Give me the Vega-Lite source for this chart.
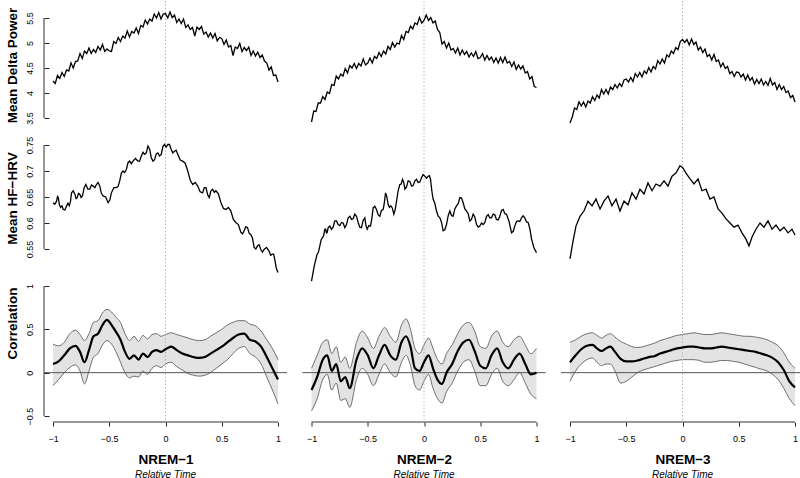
{
"$schema": "https://vega.github.io/schema/vega-lite/v6.json",
"padding": {"left": 5, "top": 0, "right": 0, "bottom": 0},
"background": "white",
"config": {
  "font": "Liberation Sans",
  "view": {"stroke": null},
  "axis": {"grid": false, "labelColor": "#000", "titleColor": "#000", "tickColor": "#222", "labelFont": "Liberation Sans", "titleFont": "Liberation Sans", "labelOverlap": false},
  "title": {"font": "Liberation Sans", "color": "#000"}
},
"datasets": {
"delta": [
{"t":-1,"n1":4.24,"n2":3.42,"n3":3.4},{"t":-0.98,"n1":4.19,"n2":3.64,"n3":3.52},{"t":-0.96,"n1":4.35,"n2":3.63,"n3":3.7},{"t":-0.94,"n1":4.29,"n2":3.8,"n3":3.67},{"t":-0.92,"n1":4.41,"n2":3.8,"n3":3.82},{"t":-0.9,"n1":4.33,"n2":3.93,"n3":3.74},{"t":-0.88,"n1":4.46,"n2":3.87,"n3":3.82},{"t":-0.86,"n1":4.44,"n2":4.02,"n3":3.72},{"t":-0.84,"n1":4.6,"n2":3.99,"n3":3.84},{"t":-0.82,"n1":4.5,"n2":4.17,"n3":3.8},
{"t":-0.8,"n1":4.63,"n2":4.15,"n3":3.93},{"t":-0.78,"n1":4.64,"n2":4.34,"n3":3.85},{"t":-0.76,"n1":4.79,"n2":4.28,"n3":3.96},{"t":-0.74,"n1":4.69,"n2":4.38,"n3":3.9},{"t":-0.72,"n1":4.84,"n2":4.34,"n3":4.07},{"t":-0.7,"n1":4.79,"n2":4.49,"n3":3.98},{"t":-0.68,"n1":4.9,"n2":4.4,"n3":4.07},{"t":-0.66,"n1":4.79,"n2":4.55,"n3":3.98},{"t":-0.64,"n1":4.87,"n2":4.5,"n3":4.12},{"t":-0.62,"n1":4.81,"n2":4.59,"n3":4.07},
{"t":-0.6,"n1":4.93,"n2":4.49,"n3":4.17},{"t":-0.58,"n1":4.86,"n2":4.59,"n3":4.1},{"t":-0.56,"n1":4.97,"n2":4.54,"n3":4.19},{"t":-0.54,"n1":4.83,"n2":4.68,"n3":4.13},{"t":-0.52,"n1":4.88,"n2":4.56,"n3":4.26},{"t":-0.5,"n1":4.84,"n2":4.6,"n3":4.28},{"t":-0.48,"n1":4.83,"n2":4.7,"n3":4.22},{"t":-0.46,"n1":5.03,"n2":4.6,"n3":4.31},{"t":-0.44,"n1":4.99,"n2":4.73,"n3":4.23},{"t":-0.42,"n1":5.11,"n2":4.69,"n3":4.39},
{"t":-0.4,"n1":5.03,"n2":4.81,"n3":4.32},{"t":-0.38,"n1":5.14,"n2":4.73,"n3":4.41},{"t":-0.36,"n1":5.1,"n2":4.84,"n3":4.32},{"t":-0.34,"n1":5.24,"n2":4.78,"n3":4.44},{"t":-0.32,"n1":5.12,"n2":4.93,"n3":4.39},{"t":-0.3,"n1":5.23,"n2":4.87,"n3":4.51},{"t":-0.28,"n1":5.2,"n2":5.01,"n3":4.42},{"t":-0.26,"n1":5.3,"n2":4.92,"n3":4.53},{"t":-0.24,"n1":5.19,"n2":5.0,"n3":4.48},{"t":-0.22,"n1":5.35,"n2":4.98,"n3":4.65},
{"t":-0.2,"n1":5.32,"n2":5.15,"n3":4.58},{"t":-0.18,"n1":5.46,"n2":5.07,"n3":4.68},{"t":-0.16,"n1":5.38,"n2":5.23,"n3":4.6},{"t":-0.14,"n1":5.48,"n2":5.21,"n3":4.76},{"t":-0.12,"n1":5.44,"n2":5.34,"n3":4.72},{"t":-0.1,"n1":5.58,"n2":5.28,"n3":4.84},{"t":-0.08,"n1":5.5,"n2":5.4,"n3":4.79},{"t":-0.06,"n1":5.61,"n2":5.37,"n3":4.91},{"t":-0.04,"n1":5.48,"n2":5.51,"n3":4.87},{"t":-0.02,"n1":5.58,"n2":5.4,"n3":5.03},
{"t":0,"n1":5.59,"n2":5.45,"n3":5.07},{"t":0.02,"n1":5.5,"n2":5.56,"n3":5.01},{"t":0.04,"n1":5.62,"n2":5.45,"n3":5.07},{"t":0.06,"n1":5.51,"n2":5.51,"n3":4.96},{"t":0.08,"n1":5.56,"n2":5.4,"n3":5.08},{"t":0.1,"n1":5.41,"n2":5.44,"n3":4.97},{"t":0.12,"n1":5.48,"n2":5.27,"n3":5.02},{"t":0.14,"n1":5.39,"n2":5.21,"n3":4.86},{"t":0.16,"n1":5.48,"n2":4.98,"n3":4.92},{"t":0.18,"n1":5.31,"n2":5.03,"n3":4.81},
{"t":0.2,"n1":5.36,"n2":4.9,"n3":4.88},{"t":0.22,"n1":5.27,"n2":5.0,"n3":4.73},{"t":0.24,"n1":5.31,"n2":4.86,"n3":4.77},{"t":0.26,"n1":5.14,"n2":4.89,"n3":4.66},{"t":0.28,"n1":5.32,"n2":4.8,"n3":4.77},{"t":0.3,"n1":5.27,"n2":4.9,"n3":4.63},{"t":0.32,"n1":5.33,"n2":4.76,"n3":4.66},{"t":0.34,"n1":5.18,"n2":4.86,"n3":4.52},{"t":0.36,"n1":5.22,"n2":4.77,"n3":4.6},{"t":0.38,"n1":5.12,"n2":4.83,"n3":4.49},
{"t":0.4,"n1":5.2,"n2":4.72,"n3":4.53},{"t":0.42,"n1":5.1,"n2":4.8,"n3":4.39},{"t":0.44,"n1":5.19,"n2":4.73,"n3":4.43},{"t":0.46,"n1":5.04,"n2":4.83,"n3":4.33},{"t":0.48,"n1":5.11,"n2":4.69,"n3":4.42},{"t":0.5,"n1":5.09,"n2":4.71,"n3":4.41},{"t":0.52,"n1":4.97,"n2":4.79,"n3":4.32},{"t":0.54,"n1":5.06,"n2":4.66,"n3":4.38},{"t":0.56,"n1":4.92,"n2":4.75,"n3":4.26},{"t":0.58,"n1":4.95,"n2":4.66,"n3":4.36},
{"t":0.6,"n1":4.75,"n2":4.72,"n3":4.25},{"t":0.62,"n1":4.92,"n2":4.61,"n3":4.31},{"t":0.64,"n1":4.89,"n2":4.7,"n3":4.18},{"t":0.66,"n1":4.99,"n2":4.6,"n3":4.27},{"t":0.68,"n1":4.83,"n2":4.71,"n3":4.19},{"t":0.7,"n1":4.91,"n2":4.61,"n3":4.28},{"t":0.72,"n1":4.85,"n2":4.72,"n3":4.16},{"t":0.74,"n1":4.92,"n2":4.6,"n3":4.23},{"t":0.76,"n1":4.75,"n2":4.63,"n3":4.15},{"t":0.78,"n1":4.84,"n2":4.53,"n3":4.29},
{"t":0.8,"n1":4.74,"n2":4.62,"n3":4.16},{"t":0.82,"n1":4.82,"n2":4.47,"n3":4.21},{"t":0.84,"n1":4.71,"n2":4.56,"n3":4.07},{"t":0.86,"n1":4.76,"n2":4.48,"n3":4.17},{"t":0.88,"n1":4.64,"n2":4.54,"n3":4.07},{"t":0.9,"n1":4.6,"n2":4.4,"n3":4.13},{"t":0.92,"n1":4.46,"n2":4.43,"n3":4.01},{"t":0.94,"n1":4.52,"n2":4.28,"n3":4.04},{"t":0.96,"n1":4.35,"n2":4.33,"n3":3.91},{"t":0.98,"n1":4.36,"n2":4.13,"n3":3.95},
{"t":1,"n1":4.22,"n2":4.11,"n3":3.82}
],
"hrv1": [
{"t":-1,"v":0.639},{"t":-0.984,"v":0.636},{"t":-0.968,"v":0.642},{"t":-0.96,"v":0.651},{"t":-0.953,"v":0.649},{"t":-0.942,"v":0.634},{"t":-0.932,"v":0.63},{"t":-0.92,"v":0.633},{"t":-0.909,"v":0.626},{"t":-0.894,"v":0.625},
{"t":-0.879,"v":0.633},{"t":-0.867,"v":0.638},{"t":-0.855,"v":0.633},{"t":-0.845,"v":0.641},{"t":-0.835,"v":0.658},{"t":-0.82,"v":0.662},{"t":-0.805,"v":0.655},{"t":-0.795,"v":0.647},{"t":-0.785,"v":0.649},{"t":-0.773,"v":0.657},
{"t":-0.761,"v":0.655},{"t":-0.75,"v":0.649},{"t":-0.738,"v":0.652},{"t":-0.723,"v":0.668},{"t":-0.708,"v":0.674},{"t":-0.69,"v":0.665},{"t":-0.673,"v":0.665},{"t":-0.658,"v":0.673},{"t":-0.643,"v":0.671},{"t":-0.628,"v":0.668},
{"t":-0.614,"v":0.674},{"t":-0.599,"v":0.678},{"t":-0.584,"v":0.671},{"t":-0.57,"v":0.657},{"t":-0.555,"v":0.652},{"t":-0.532,"v":0.65},{"t":-0.51,"v":0.639},{"t":-0.495,"v":0.644},{"t":-0.481,"v":0.658},{"t":-0.459,"v":0.668},
{"t":-0.437,"v":0.668},{"t":-0.422,"v":0.67},{"t":-0.407,"v":0.681},{"t":-0.392,"v":0.696},{"t":-0.378,"v":0.7},{"t":-0.363,"v":0.697},{"t":-0.348,"v":0.703},{"t":-0.333,"v":0.716},{"t":-0.319,"v":0.719},{"t":-0.304,"v":0.714},
{"t":-0.289,"v":0.719},{"t":-0.267,"v":0.724},{"t":-0.245,"v":0.719},{"t":-0.23,"v":0.719},{"t":-0.215,"v":0.729},{"t":-0.2,"v":0.736},{"t":-0.186,"v":0.732},{"t":-0.171,"v":0.735},{"t":-0.156,"v":0.748},{"t":-0.141,"v":0.742},
{"t":-0.127,"v":0.726},{"t":-0.112,"v":0.719},{"t":-0.097,"v":0.722},{"t":-0.082,"v":0.733},{"t":-0.068,"v":0.735},{"t":-0.053,"v":0.729},{"t":-0.038,"v":0.732},{"t":-0.023,"v":0.747},{"t":-0.009,"v":0.751},{"t":0.006,"v":0.746},
{"t":0.021,"v":0.751},{"t":0.035,"v":0.751},{"t":0.05,"v":0.742},{"t":0.065,"v":0.735},{"t":0.08,"v":0.738},{"t":0.095,"v":0.74},{"t":0.109,"v":0.732},{"t":0.131,"v":0.721},{"t":0.153,"v":0.719},{"t":0.175,"v":0.715},
{"t":0.198,"v":0.7},{"t":0.22,"v":0.682},{"t":0.242,"v":0.674},{"t":0.264,"v":0.678},{"t":0.286,"v":0.671},{"t":0.308,"v":0.66},{"t":0.33,"v":0.658},{"t":0.345,"v":0.668},{"t":0.36,"v":0.668},{"t":0.375,"v":0.654},
{"t":0.389,"v":0.649},{"t":0.404,"v":0.662},{"t":0.419,"v":0.665},{"t":0.434,"v":0.659},{"t":0.448,"v":0.662},{"t":0.47,"v":0.656},{"t":0.493,"v":0.639},{"t":0.515,"v":0.628},{"t":0.537,"v":0.626},{"t":0.559,"v":0.63},
{"t":0.581,"v":0.623},{"t":0.603,"v":0.607},{"t":0.625,"v":0.601},{"t":0.648,"v":0.597},{"t":0.67,"v":0.582},{"t":0.685,"v":0.579},{"t":0.699,"v":0.585},{"t":0.714,"v":0.593},{"t":0.729,"v":0.591},{"t":0.744,"v":0.58},
{"t":0.758,"v":0.578},{"t":0.773,"v":0.571},{"t":0.788,"v":0.553},{"t":0.803,"v":0.55},{"t":0.817,"v":0.556},{"t":0.832,"v":0.558},{"t":0.847,"v":0.549},{"t":0.862,"v":0.544},{"t":0.876,"v":0.549},{"t":0.898,"v":0.553},
{"t":0.92,"v":0.546},{"t":0.935,"v":0.538},{"t":0.95,"v":0.54},{"t":0.961,"v":0.54},{"t":0.971,"v":0.53},{"t":0.985,"v":0.513},{"t":1,"v":0.505}
],
"hrv2": [
{"t":-1,"v":0.488},{"t":-0.975,"v":0.518},{"t":-0.95,"v":0.54},{"t":-0.938,"v":0.544},{"t":-0.926,"v":0.556},{"t":-0.914,"v":0.568},{"t":-0.902,"v":0.572},{"t":-0.892,"v":0.576},{"t":-0.881,"v":0.588},{"t":-0.874,"v":0.588},
{"t":-0.867,"v":0.581},{"t":-0.86,"v":0.582},{"t":-0.852,"v":0.591},{"t":-0.837,"v":0.594},{"t":-0.822,"v":0.588},{"t":-0.808,"v":0.592},{"t":-0.793,"v":0.604},{"t":-0.778,"v":0.604},{"t":-0.763,"v":0.597},{"t":-0.748,"v":0.595},
{"t":-0.733,"v":0.601},{"t":-0.719,"v":0.6},{"t":-0.704,"v":0.591},{"t":-0.689,"v":0.597},{"t":-0.674,"v":0.61},{"t":-0.659,"v":0.613},{"t":-0.644,"v":0.607},{"t":-0.63,"v":0.608},{"t":-0.615,"v":0.617},{"t":-0.6,"v":0.613},
{"t":-0.585,"v":0.601},{"t":-0.571,"v":0.592},{"t":-0.556,"v":0.591},{"t":-0.541,"v":0.605},{"t":-0.526,"v":0.61},{"t":-0.516,"v":0.595},{"t":-0.505,"v":0.588},{"t":-0.491,"v":0.595},{"t":-0.476,"v":0.594},{"t":-0.464,"v":0.608},
{"t":-0.452,"v":0.629},{"t":-0.437,"v":0.632},{"t":-0.422,"v":0.626},{"t":-0.408,"v":0.616},{"t":-0.393,"v":0.613},{"t":-0.378,"v":0.624},{"t":-0.363,"v":0.626},{"t":-0.353,"v":0.638},{"t":-0.342,"v":0.658},{"t":-0.331,"v":0.651},
{"t":-0.319,"v":0.636},{"t":-0.307,"v":0.63},{"t":-0.295,"v":0.633},{"t":-0.282,"v":0.629},{"t":-0.268,"v":0.617},{"t":-0.256,"v":0.626},{"t":-0.244,"v":0.642},{"t":-0.23,"v":0.662},{"t":-0.215,"v":0.674},{"t":-0.203,"v":0.675},
{"t":-0.191,"v":0.684},{"t":-0.181,"v":0.679},{"t":-0.17,"v":0.665},{"t":-0.156,"v":0.669},{"t":-0.141,"v":0.681},{"t":-0.126,"v":0.68},{"t":-0.111,"v":0.671},{"t":-0.096,"v":0.672},{"t":-0.081,"v":0.681},{"t":-0.067,"v":0.684},
{"t":-0.052,"v":0.678},{"t":-0.037,"v":0.679},{"t":-0.022,"v":0.687},{"t":-0.008,"v":0.693},{"t":0.007,"v":0.69},{"t":0.022,"v":0.686},{"t":0.037,"v":0.69},{"t":0.048,"v":0.691},{"t":0.058,"v":0.684},{"t":0.07,"v":0.661},
{"t":0.081,"v":0.646},{"t":0.096,"v":0.638},{"t":0.111,"v":0.623},{"t":0.126,"v":0.613},{"t":0.141,"v":0.61},{"t":0.156,"v":0.601},{"t":0.17,"v":0.585},{"t":0.185,"v":0.587},{"t":0.2,"v":0.597},{"t":0.215,"v":0.614},
{"t":0.23,"v":0.623},{"t":0.245,"v":0.614},{"t":0.259,"v":0.613},{"t":0.274,"v":0.627},{"t":0.289,"v":0.633},{"t":0.304,"v":0.637},{"t":0.319,"v":0.649},{"t":0.334,"v":0.648},{"t":0.348,"v":0.639},{"t":0.363,"v":0.627},
{"t":0.378,"v":0.623},{"t":0.393,"v":0.618},{"t":0.407,"v":0.604},{"t":0.422,"v":0.607},{"t":0.437,"v":0.617},{"t":0.452,"v":0.611},{"t":0.467,"v":0.597},{"t":0.482,"v":0.592},{"t":0.496,"v":0.594},{"t":0.511,"v":0.6},
{"t":0.526,"v":0.597},{"t":0.541,"v":0.601},{"t":0.556,"v":0.613},{"t":0.571,"v":0.616},{"t":0.585,"v":0.61},{"t":0.6,"v":0.61},{"t":0.615,"v":0.617},{"t":0.63,"v":0.616},{"t":0.644,"v":0.607},{"t":0.659,"v":0.606},
{"t":0.674,"v":0.613},{"t":0.689,"v":0.624},{"t":0.704,"v":0.626},{"t":0.719,"v":0.618},{"t":0.733,"v":0.617},{"t":0.756,"v":0.603},{"t":0.778,"v":0.581},{"t":0.793,"v":0.584},{"t":0.807,"v":0.594},{"t":0.822,"v":0.603},
{"t":0.837,"v":0.604},{"t":0.852,"v":0.603},{"t":0.867,"v":0.61},{"t":0.881,"v":0.614},{"t":0.896,"v":0.61},{"t":0.911,"v":0.602},{"t":0.926,"v":0.601},{"t":0.941,"v":0.589},{"t":0.956,"v":0.569},{"t":0.978,"v":0.552},
{"t":1,"v":0.543}
],
"hrv3": [
{"t":-1,"v":0.531},{"t":-0.973,"v":0.565},{"t":-0.947,"v":0.594},{"t":-0.911,"v":0.613},{"t":-0.876,"v":0.623},{"t":-0.84,"v":0.642},{"t":-0.804,"v":0.633},{"t":-0.769,"v":0.646},{"t":-0.733,"v":0.627},{"t":-0.698,"v":0.642},
{"t":-0.662,"v":0.652},{"t":-0.627,"v":0.633},{"t":-0.591,"v":0.646},{"t":-0.556,"v":0.623},{"t":-0.52,"v":0.642},{"t":-0.484,"v":0.635},{"t":-0.449,"v":0.658},{"t":-0.413,"v":0.646},{"t":-0.378,"v":0.665},{"t":-0.342,"v":0.656},
{"t":-0.307,"v":0.677},{"t":-0.271,"v":0.662},{"t":-0.236,"v":0.675},{"t":-0.2,"v":0.671},{"t":-0.164,"v":0.681},{"t":-0.129,"v":0.671},{"t":-0.093,"v":0.69},{"t":-0.058,"v":0.696},{"t":-0.022,"v":0.71},{"t":0.004,"v":0.706},
{"t":0.031,"v":0.696},{"t":0.067,"v":0.685},{"t":0.102,"v":0.675},{"t":0.138,"v":0.685},{"t":0.173,"v":0.662},{"t":0.209,"v":0.665},{"t":0.244,"v":0.646},{"t":0.28,"v":0.65},{"t":0.316,"v":0.627},{"t":0.351,"v":0.619},
{"t":0.387,"v":0.608},{"t":0.422,"v":0.6},{"t":0.458,"v":0.592},{"t":0.493,"v":0.596},{"t":0.529,"v":0.581},{"t":0.564,"v":0.569},{"t":0.591,"v":0.556},{"t":0.618,"v":0.573},{"t":0.653,"v":0.588},{"t":0.689,"v":0.6},
{"t":0.724,"v":0.592},{"t":0.76,"v":0.604},{"t":0.796,"v":0.588},{"t":0.831,"v":0.596},{"t":0.867,"v":0.585},{"t":0.902,"v":0.592},{"t":0.938,"v":0.581},{"t":0.973,"v":0.588},{"t":1,"v":0.577}
],
"corr1": [
{"t":-1,"m":0.1,"lo":-0.15,"hi":0.33},{"t":-0.95,"m":0.13,"lo":-0.08,"hi":0.31},{"t":-0.9,"m":0.2,"lo":0.0,"hi":0.35},{"t":-0.85,"m":0.28,"lo":0.06,"hi":0.45},{"t":-0.8,"m":0.31,"lo":0.09,"hi":0.49},{"t":-0.76,"m":0.24,"lo":0.02,"hi":0.44},{"t":-0.72,"m":0.12,"lo":-0.13,"hi":0.37},{"t":-0.68,"m":0.26,"lo":0.02,"hi":0.45},{"t":-0.64,"m":0.42,"lo":0.18,"hi":0.58},{"t":-0.6,"m":0.45,"lo":0.22,"hi":0.6},
{"t":-0.56,"m":0.55,"lo":0.32,"hi":0.69},{"t":-0.52,"m":0.61,"lo":0.37,"hi":0.73},{"t":-0.48,"m":0.55,"lo":0.33,"hi":0.7},{"t":-0.44,"m":0.47,"lo":0.24,"hi":0.64},{"t":-0.4,"m":0.38,"lo":0.12,"hi":0.58},{"t":-0.36,"m":0.24,"lo":0.0,"hi":0.45},{"t":-0.32,"m":0.16,"lo":-0.06,"hi":0.37},{"t":-0.28,"m":0.2,"lo":-0.04,"hi":0.42},{"t":-0.24,"m":0.15,"lo":-0.05,"hi":0.36},{"t":-0.2,"m":0.22,"lo":0.02,"hi":0.43},
{"t":-0.16,"m":0.18,"lo":-0.02,"hi":0.39},{"t":-0.12,"m":0.24,"lo":0.05,"hi":0.44},{"t":-0.08,"m":0.26,"lo":0.08,"hi":0.45},{"t":-0.04,"m":0.24,"lo":0.06,"hi":0.42},{"t":0,"m":0.27,"lo":0.1,"hi":0.44},{"t":0.05,"m":0.3,"lo":0.12,"hi":0.46},{"t":0.1,"m":0.26,"lo":0.07,"hi":0.44},{"t":0.15,"m":0.22,"lo":0.03,"hi":0.42},{"t":0.2,"m":0.2,"lo":-0.01,"hi":0.4},{"t":0.25,"m":0.18,"lo":-0.03,"hi":0.38},
{"t":0.3,"m":0.17,"lo":-0.04,"hi":0.37},{"t":0.35,"m":0.18,"lo":-0.03,"hi":0.38},{"t":0.4,"m":0.22,"lo":0.0,"hi":0.42},{"t":0.45,"m":0.26,"lo":0.05,"hi":0.46},{"t":0.5,"m":0.3,"lo":0.1,"hi":0.5},{"t":0.55,"m":0.35,"lo":0.15,"hi":0.55},{"t":0.6,"m":0.4,"lo":0.22,"hi":0.58},{"t":0.65,"m":0.44,"lo":0.28,"hi":0.6},{"t":0.7,"m":0.45,"lo":0.3,"hi":0.6},{"t":0.75,"m":0.38,"lo":0.22,"hi":0.56},
{"t":0.8,"m":0.36,"lo":0.18,"hi":0.54},{"t":0.85,"m":0.3,"lo":0.1,"hi":0.48},{"t":0.9,"m":0.18,"lo":-0.05,"hi":0.38},{"t":0.95,"m":0.05,"lo":-0.2,"hi":0.28},{"t":1,"m":-0.08,"lo":-0.36,"hi":0.15}
],
"corr2": [
{"t":-1,"m":-0.2,"lo":-0.44,"hi":0.05},{"t":-0.95,"m":-0.05,"lo":-0.3,"hi":0.2},{"t":-0.9,"m":0.15,"lo":-0.08,"hi":0.35},{"t":-0.86,"m":0.2,"lo":-0.02,"hi":0.38},{"t":-0.82,"m":0.02,"lo":-0.2,"hi":0.22},{"t":-0.78,"m":0.1,"lo":-0.12,"hi":0.3},{"t":-0.74,"m":-0.1,"lo":-0.32,"hi":0.12},{"t":-0.7,"m":-0.05,"lo":-0.3,"hi":0.18},{"t":-0.66,"m":-0.18,"lo":-0.4,"hi":0.05},{"t":-0.6,"m":0.15,"lo":-0.08,"hi":0.35},
{"t":-0.55,"m":0.28,"lo":0.05,"hi":0.48},{"t":-0.5,"m":0.2,"lo":-0.02,"hi":0.4},{"t":-0.45,"m":0.05,"lo":-0.15,"hi":0.28},{"t":-0.4,"m":0.2,"lo":-0.02,"hi":0.42},{"t":-0.35,"m":0.32,"lo":0.1,"hi":0.52},{"t":-0.3,"m":0.2,"lo":0.0,"hi":0.42},{"t":-0.25,"m":0.15,"lo":-0.05,"hi":0.35},{"t":-0.2,"m":0.35,"lo":0.12,"hi":0.55},{"t":-0.16,"m":0.42,"lo":0.2,"hi":0.62},{"t":-0.12,"m":0.3,"lo":0.08,"hi":0.5},
{"t":-0.08,"m":0.05,"lo":-0.15,"hi":0.28},{"t":-0.04,"m":0.02,"lo":-0.2,"hi":0.22},{"t":0,"m":0.12,"lo":-0.1,"hi":0.32},{"t":0.04,"m":0.2,"lo":-0.02,"hi":0.4},{"t":0.08,"m":0.05,"lo":-0.18,"hi":0.28},{"t":0.12,"m":-0.08,"lo":-0.3,"hi":0.15},{"t":0.16,"m":-0.13,"lo":-0.35,"hi":0.1},{"t":0.2,"m":0.0,"lo":-0.22,"hi":0.22},{"t":0.25,"m":0.1,"lo":-0.12,"hi":0.32},{"t":0.3,"m":0.25,"lo":0.02,"hi":0.45},
{"t":0.35,"m":0.35,"lo":0.12,"hi":0.55},{"t":0.4,"m":0.38,"lo":0.15,"hi":0.58},{"t":0.45,"m":0.25,"lo":0.02,"hi":0.48},{"t":0.5,"m":0.08,"lo":-0.15,"hi":0.3},{"t":0.55,"m":0.05,"lo":-0.15,"hi":0.28},{"t":0.6,"m":0.2,"lo":-0.02,"hi":0.42},{"t":0.65,"m":0.28,"lo":0.05,"hi":0.48},{"t":0.7,"m":0.12,"lo":-0.1,"hi":0.35},{"t":0.75,"m":0.05,"lo":-0.15,"hi":0.3},{"t":0.8,"m":0.15,"lo":-0.08,"hi":0.38},
{"t":0.85,"m":0.22,"lo":0.0,"hi":0.42},{"t":0.9,"m":0.1,"lo":-0.12,"hi":0.32},{"t":0.95,"m":-0.02,"lo":-0.25,"hi":0.22},{"t":1,"m":0.0,"lo":-0.3,"hi":0.28}
],
"corr3": [
{"t":-1,"m":0.12,"lo":-0.1,"hi":0.35},{"t":-0.95,"m":0.2,"lo":0.02,"hi":0.38},{"t":-0.9,"m":0.27,"lo":0.1,"hi":0.42},{"t":-0.85,"m":0.31,"lo":0.15,"hi":0.45},{"t":-0.8,"m":0.32,"lo":0.17,"hi":0.46},{"t":-0.76,"m":0.28,"lo":0.12,"hi":0.43},{"t":-0.72,"m":0.25,"lo":0.08,"hi":0.4},{"t":-0.68,"m":0.28,"lo":0.1,"hi":0.43},{"t":-0.64,"m":0.3,"lo":0.1,"hi":0.45},{"t":-0.6,"m":0.24,"lo":0.02,"hi":0.41},
{"t":-0.55,"m":0.16,"lo":-0.12,"hi":0.36},{"t":-0.5,"m":0.13,"lo":-0.1,"hi":0.33},{"t":-0.45,"m":0.13,"lo":-0.05,"hi":0.3},{"t":-0.4,"m":0.14,"lo":0.0,"hi":0.29},{"t":-0.35,"m":0.16,"lo":0.03,"hi":0.3},{"t":-0.3,"m":0.18,"lo":0.05,"hi":0.32},{"t":-0.25,"m":0.19,"lo":0.07,"hi":0.34},{"t":-0.2,"m":0.22,"lo":0.09,"hi":0.37},{"t":-0.15,"m":0.24,"lo":0.11,"hi":0.39},{"t":-0.1,"m":0.26,"lo":0.13,"hi":0.41},
{"t":-0.05,"m":0.28,"lo":0.14,"hi":0.43},{"t":0,"m":0.29,"lo":0.15,"hi":0.44},{"t":0.05,"m":0.3,"lo":0.15,"hi":0.45},{"t":0.1,"m":0.3,"lo":0.15,"hi":0.46},{"t":0.15,"m":0.29,"lo":0.14,"hi":0.45},{"t":0.2,"m":0.28,"lo":0.12,"hi":0.44},{"t":0.25,"m":0.28,"lo":0.12,"hi":0.44},{"t":0.3,"m":0.29,"lo":0.13,"hi":0.45},{"t":0.35,"m":0.3,"lo":0.14,"hi":0.46},{"t":0.4,"m":0.29,"lo":0.14,"hi":0.45},
{"t":0.45,"m":0.28,"lo":0.13,"hi":0.44},{"t":0.5,"m":0.27,"lo":0.12,"hi":0.43},{"t":0.55,"m":0.26,"lo":0.1,"hi":0.42},{"t":0.6,"m":0.25,"lo":0.08,"hi":0.42},{"t":0.65,"m":0.24,"lo":0.06,"hi":0.41},{"t":0.7,"m":0.22,"lo":0.04,"hi":0.4},{"t":0.75,"m":0.2,"lo":0.02,"hi":0.38},{"t":0.8,"m":0.17,"lo":-0.02,"hi":0.35},{"t":0.85,"m":0.12,"lo":-0.08,"hi":0.31},{"t":0.9,"m":0.03,"lo":-0.18,"hi":0.23},
{"t":0.95,"m":-0.1,"lo":-0.3,"hi":0.12},{"t":1,"m":-0.17,"lo":-0.38,"hi":0.05}
]
},
"spacing": 13.5,
"hconcat": [
{"spacing": 0, "bounds": "flush", "vconcat": [
 {"width": 243, "height": 128, "layer": [
  {"data": {"values": [{}]}, "mark": {"type": "rule", "color": "#b5b5b5", "strokeDash": [1.5, 2]}, "encoding": {"x": {"datum": 0, "scale": {"domain": [-1.08, 1.08], "nice": false, "zero": false}, "axis": null}}},
  {"data": {"name": "delta"}, "mark": {"type": "line", "color": "#000", "strokeWidth": 1.3}, "encoding": {"x": {"field": "t", "type": "quantitative", "scale": {"domain": [-1.08, 1.08], "nice": false, "zero": false}, "axis": null}, "y": {"field": "n1", "type": "quantitative", "scale": {"domain": [3.28, 5.84], "nice": false, "zero": false}, "axis": {"title": "Mean Delta Power", "values": [3.5, 4, 4.5, 5, 5.5], "format": ".2~f", "labelOverlap": false, "labelAngle": -90, "labelFontSize": 9, "titleFontSize": 13.5, "titleFontWeight": "bold", "domain": false, "offset": -5, "tickSize": 5, "labelPadding": 9.5, "titlePadding": 6}}}},
  {"data": {"values": [{}]}, "mark": {"type": "rule", "color": "#333"}, "encoding": {"x": {"datum": -1.08, "scale": {"domain": [-1.08, 1.08], "nice": false, "zero": false}, "axis": null}, "y": {"datum": 3.5, "type": "quantitative", "scale": {"domain": [3.28, 5.84], "nice": false, "zero": false}, "axis": {"title": "Mean Delta Power", "values": [3.5, 4, 4.5, 5, 5.5], "format": ".2~f", "labelOverlap": false, "labelAngle": -90, "labelFontSize": 9, "titleFontSize": 13.5, "titleFontWeight": "bold", "domain": false, "offset": -5, "tickSize": 5, "labelPadding": 9.5, "titlePadding": 6}}, "y2": {"datum": 5.5}}}
 ]},
 {"width": 243, "height": 153, "layer": [
  {"data": {"values": [{}]}, "mark": {"type": "rule", "color": "#b5b5b5", "strokeDash": [1.5, 2]}, "encoding": {"x": {"datum": 0, "scale": {"domain": [-1.08, 1.08], "nice": false, "zero": false}, "axis": null}}},
  {"data": {"name": "hrv1"}, "mark": {"type": "line", "color": "#000", "strokeWidth": 1.3}, "encoding": {"x": {"field": "t", "type": "quantitative", "scale": {"domain": [-1.08, 1.08], "nice": false, "zero": false}, "axis": null}, "y": {"field": "v", "type": "quantitative", "scale": {"domain": [0.4865, 0.7808], "nice": false, "zero": false}, "axis": {"title": "Mean HF−HRV", "values": [0.55, 0.6, 0.65, 0.7, 0.75], "format": ".2~f", "labelOverlap": false, "labelAngle": -90, "labelFontSize": 9, "titleFontSize": 13.5, "titleFontWeight": "bold", "domain": false, "offset": -5, "tickSize": 5, "labelPadding": 9.5, "titlePadding": 6, "titleY": 69}}}},
  {"data": {"values": [{}]}, "mark": {"type": "rule", "color": "#333"}, "encoding": {"x": {"datum": -1.08, "scale": {"domain": [-1.08, 1.08], "nice": false, "zero": false}, "axis": null}, "y": {"datum": 0.55, "type": "quantitative", "scale": {"domain": [0.4865, 0.7808], "nice": false, "zero": false}, "axis": {"title": "Mean HF−HRV", "values": [0.55, 0.6, 0.65, 0.7, 0.75], "format": ".2~f", "labelOverlap": false, "labelAngle": -90, "labelFontSize": 9, "titleFontSize": 13.5, "titleFontWeight": "bold", "domain": false, "offset": -5, "tickSize": 5, "labelPadding": 9.5, "titlePadding": 6, "titleY": 69}}, "y2": {"datum": 0.75}}}
 ]},
 {"width": 243, "height": 140,
  "title": {"text": "Relative Time", "orient": "bottom", "anchor": "middle", "frame": "group", "fontSize": 10, "fontStyle": "italic", "fontWeight": "normal", "offset": 4},
  "layer": [
  {"data": {"name": "corr1"}, "mark": {"type": "area", "color": "#e3e3e3", "interpolate": "monotone"}, "encoding": {"x": {"field": "t", "type": "quantitative", "scale": {"domain": [-1.08, 1.08], "nice": false, "zero": false}}, "y": {"field": "lo", "type": "quantitative", "scale": {"domain": [-0.5692, 1.046], "nice": false, "zero": false}}, "y2": {"field": "hi"}}},
  {"data": {"name": "corr1"}, "mark": {"type": "line", "color": "#4d4d4d", "strokeWidth": 0.8, "interpolate": "monotone"}, "encoding": {"x": {"field": "t", "type": "quantitative"}, "y": {"field": "lo", "type": "quantitative"}}},
  {"data": {"name": "corr1"}, "mark": {"type": "line", "color": "#4d4d4d", "strokeWidth": 0.8, "interpolate": "monotone"}, "encoding": {"x": {"field": "t", "type": "quantitative"}, "y": {"field": "hi", "type": "quantitative"}}},
  {"data": {"values": [{}]}, "mark": {"type": "rule", "color": "#b5b5b5", "strokeDash": [1.5, 2]}, "encoding": {"x": {"datum": 0, "type": "quantitative"}}},
  {"data": {"values": [{}]}, "mark": {"type": "rule", "color": "#555", "strokeWidth": 1}, "encoding": {"y": {"datum": 0, "type": "quantitative"}}},
  {"data": {"name": "corr1"}, "mark": {"type": "line", "color": "#000", "strokeWidth": 2.2, "interpolate": "monotone"}, "encoding": {"x": {"field": "t", "type": "quantitative", "axis": {"title": "NREM−1", "values": [-1, -0.5, 0, 0.5, 1], "format": ".2~f", "labelOverlap": false, "labelAngle": 0, "labelFontSize": 9, "labelFlush": false, "titleFontSize": 13.5, "titleFontWeight": "bold", "domain": false, "tickSize": 4, "labelPadding": 8, "titlePadding": 9}}, "y": {"field": "m", "type": "quantitative", "axis": {"title": "Correlation", "values": [-0.5, 0, 0.5, 1], "format": ".2~f", "labelOverlap": false, "labelAngle": -90, "labelFontSize": 9, "titleFontSize": 13.5, "titleFontWeight": "bold", "domain": false, "offset": -5, "tickSize": 5, "labelPadding": 9.5, "titlePadding": 6, "titleY": 41}}}},
  {"data": {"values": [{}]}, "mark": {"type": "rule", "color": "#333"}, "encoding": {"x": {"datum": -1.08, "type": "quantitative"}, "y": {"datum": -0.5, "type": "quantitative"}, "y2": {"datum": 1}}},
  {"data": {"values": [{}]}, "mark": {"type": "rule", "color": "#333"}, "encoding": {"x": {"datum": -1, "type": "quantitative"}, "x2": {"datum": 1}, "y": {"datum": -0.5692, "type": "quantitative"}}}
 ]}
]},
{"spacing": 0, "bounds": "flush", "vconcat": [
 {"width": 243, "height": 128, "layer": [
  {"data": {"values": [{}]}, "mark": {"type": "rule", "color": "#b5b5b5", "strokeDash": [1.5, 2]}, "encoding": {"x": {"datum": 0, "scale": {"domain": [-1.08, 1.08], "nice": false, "zero": false}, "axis": null}}},
  {"data": {"name": "delta"}, "mark": {"type": "line", "color": "#000", "strokeWidth": 1.3}, "encoding": {"x": {"field": "t", "type": "quantitative", "scale": {"domain": [-1.08, 1.08], "nice": false, "zero": false}, "axis": null}, "y": {"field": "n2", "type": "quantitative", "scale": {"domain": [3.28, 5.84], "nice": false, "zero": false}, "axis": null}}}
 ]},
 {"width": 243, "height": 153, "layer": [
  {"data": {"values": [{}]}, "mark": {"type": "rule", "color": "#b5b5b5", "strokeDash": [1.5, 2]}, "encoding": {"x": {"datum": 0, "scale": {"domain": [-1.08, 1.08], "nice": false, "zero": false}, "axis": null}}},
  {"data": {"name": "hrv2"}, "mark": {"type": "line", "color": "#000", "strokeWidth": 1.3}, "encoding": {"x": {"field": "t", "type": "quantitative", "scale": {"domain": [-1.08, 1.08], "nice": false, "zero": false}, "axis": null}, "y": {"field": "v", "type": "quantitative", "scale": {"domain": [0.4865, 0.7808], "nice": false, "zero": false}, "axis": null}}}
 ]},
 {"width": 243, "height": 140,
  "title": {"text": "Relative Time", "orient": "bottom", "anchor": "middle", "frame": "group", "fontSize": 10, "fontStyle": "italic", "fontWeight": "normal", "offset": 4},
  "layer": [
  {"data": {"name": "corr2"}, "mark": {"type": "area", "color": "#e3e3e3", "interpolate": "monotone"}, "encoding": {"x": {"field": "t", "type": "quantitative", "scale": {"domain": [-1.08, 1.08], "nice": false, "zero": false}}, "y": {"field": "lo", "type": "quantitative", "scale": {"domain": [-0.5692, 1.046], "nice": false, "zero": false}, "axis": null}, "y2": {"field": "hi"}}},
  {"data": {"name": "corr2"}, "mark": {"type": "line", "color": "#4d4d4d", "strokeWidth": 0.8, "interpolate": "monotone"}, "encoding": {"x": {"field": "t", "type": "quantitative"}, "y": {"field": "lo", "type": "quantitative", "axis": null}}},
  {"data": {"name": "corr2"}, "mark": {"type": "line", "color": "#4d4d4d", "strokeWidth": 0.8, "interpolate": "monotone"}, "encoding": {"x": {"field": "t", "type": "quantitative"}, "y": {"field": "hi", "type": "quantitative", "axis": null}}},
  {"data": {"values": [{}]}, "mark": {"type": "rule", "color": "#b5b5b5", "strokeDash": [1.5, 2]}, "encoding": {"x": {"datum": 0, "type": "quantitative"}}},
  {"data": {"values": [{}]}, "mark": {"type": "rule", "color": "#555", "strokeWidth": 1}, "encoding": {"y": {"datum": 0, "type": "quantitative", "axis": null}}},
  {"data": {"name": "corr2"}, "mark": {"type": "line", "color": "#000", "strokeWidth": 2.2, "interpolate": "monotone"}, "encoding": {"x": {"field": "t", "type": "quantitative", "axis": {"title": "NREM−2", "values": [-1, -0.5, 0, 0.5, 1], "format": ".2~f", "labelOverlap": false, "labelAngle": 0, "labelFontSize": 9, "labelFlush": false, "titleFontSize": 13.5, "titleFontWeight": "bold", "domain": false, "tickSize": 4, "labelPadding": 8, "titlePadding": 9}}, "y": {"field": "m", "type": "quantitative", "axis": null}}},
  {"data": {"values": [{}]}, "mark": {"type": "rule", "color": "#333"}, "encoding": {"x": {"datum": -1, "type": "quantitative"}, "x2": {"datum": 1}, "y": {"datum": -0.5692, "type": "quantitative", "axis": null}}}
 ]}
]},
{"spacing": 0, "bounds": "flush", "vconcat": [
 {"width": 243, "height": 128, "layer": [
  {"data": {"values": [{}]}, "mark": {"type": "rule", "color": "#b5b5b5", "strokeDash": [1.5, 2]}, "encoding": {"x": {"datum": 0, "scale": {"domain": [-1.08, 1.08], "nice": false, "zero": false}, "axis": null}}},
  {"data": {"name": "delta"}, "mark": {"type": "line", "color": "#000", "strokeWidth": 1.3}, "encoding": {"x": {"field": "t", "type": "quantitative", "scale": {"domain": [-1.08, 1.08], "nice": false, "zero": false}, "axis": null}, "y": {"field": "n3", "type": "quantitative", "scale": {"domain": [3.28, 5.84], "nice": false, "zero": false}, "axis": null}}}
 ]},
 {"width": 243, "height": 153, "layer": [
  {"data": {"values": [{}]}, "mark": {"type": "rule", "color": "#b5b5b5", "strokeDash": [1.5, 2]}, "encoding": {"x": {"datum": 0, "scale": {"domain": [-1.08, 1.08], "nice": false, "zero": false}, "axis": null}}},
  {"data": {"name": "hrv3"}, "mark": {"type": "line", "color": "#000", "strokeWidth": 1.3}, "encoding": {"x": {"field": "t", "type": "quantitative", "scale": {"domain": [-1.08, 1.08], "nice": false, "zero": false}, "axis": null}, "y": {"field": "v", "type": "quantitative", "scale": {"domain": [0.4865, 0.7808], "nice": false, "zero": false}, "axis": null}}}
 ]},
 {"width": 243, "height": 140,
  "title": {"text": "Relative Time", "orient": "bottom", "anchor": "middle", "frame": "group", "fontSize": 10, "fontStyle": "italic", "fontWeight": "normal", "offset": 4},
  "layer": [
  {"data": {"name": "corr3"}, "mark": {"type": "area", "color": "#e3e3e3", "interpolate": "monotone"}, "encoding": {"x": {"field": "t", "type": "quantitative", "scale": {"domain": [-1.08, 1.08], "nice": false, "zero": false}}, "y": {"field": "lo", "type": "quantitative", "scale": {"domain": [-0.5692, 1.046], "nice": false, "zero": false}, "axis": null}, "y2": {"field": "hi"}}},
  {"data": {"name": "corr3"}, "mark": {"type": "line", "color": "#4d4d4d", "strokeWidth": 0.8, "interpolate": "monotone"}, "encoding": {"x": {"field": "t", "type": "quantitative"}, "y": {"field": "lo", "type": "quantitative", "axis": null}}},
  {"data": {"name": "corr3"}, "mark": {"type": "line", "color": "#4d4d4d", "strokeWidth": 0.8, "interpolate": "monotone"}, "encoding": {"x": {"field": "t", "type": "quantitative"}, "y": {"field": "hi", "type": "quantitative", "axis": null}}},
  {"data": {"values": [{}]}, "mark": {"type": "rule", "color": "#b5b5b5", "strokeDash": [1.5, 2]}, "encoding": {"x": {"datum": 0, "type": "quantitative"}}},
  {"data": {"values": [{}]}, "mark": {"type": "rule", "color": "#555", "strokeWidth": 1}, "encoding": {"y": {"datum": 0, "type": "quantitative", "axis": null}}},
  {"data": {"name": "corr3"}, "mark": {"type": "line", "color": "#000", "strokeWidth": 2.2, "interpolate": "monotone"}, "encoding": {"x": {"field": "t", "type": "quantitative", "axis": {"title": "NREM−3", "values": [-1, -0.5, 0, 0.5, 1], "format": ".2~f", "labelOverlap": false, "labelAngle": 0, "labelFontSize": 9, "labelFlush": false, "titleFontSize": 13.5, "titleFontWeight": "bold", "domain": false, "tickSize": 4, "labelPadding": 8, "titlePadding": 9}}, "y": {"field": "m", "type": "quantitative", "axis": null}}},
  {"data": {"values": [{}]}, "mark": {"type": "rule", "color": "#333"}, "encoding": {"x": {"datum": -1, "type": "quantitative"}, "x2": {"datum": 1}, "y": {"datum": -0.5692, "type": "quantitative", "axis": null}}}
 ]}
]}
]
}
